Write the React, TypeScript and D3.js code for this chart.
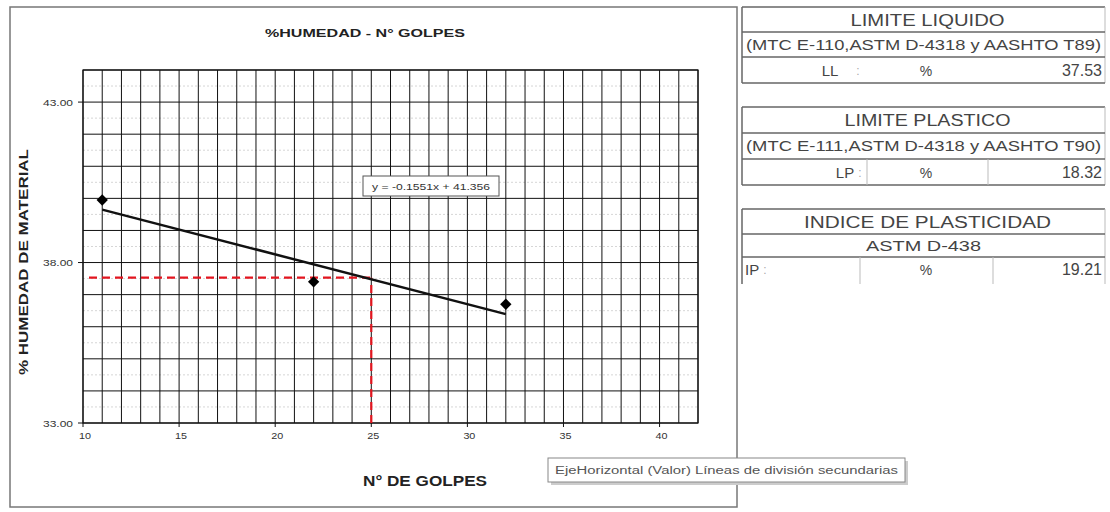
import React from "react";
import * as d3 from "d3";

const golpes = [11, 22, 32];
const humedad = [39.95, 37.4, 36.7];
const slope = -0.1551;
const intercept = 41.356;
const trendRange = [11, 32];
const limiteLiquido = 37.53;
const golpesRef = 25;
const xTicks = [10, 15, 20, 25, 30, 35, 40];
const yTicks = [33, 38, 43];
const xDomain = [10, 42];
const yDomain = [33, 44];

const LL = "37.53";
const LP = "18.32";
const IP = "19.21";

const FONT = "'Liberation Sans', Arial, sans-serif";

export default function App() {
  const left = 83, right = 698, top = 70, bottom = 423;
  const x = d3.scaleLinear().domain(xDomain).range([left, right]);
  const y = d3.scaleLinear().domain(yDomain).range([bottom, top]);
  const vGrid = d3.range(xDomain[0], xDomain[1] + 1, 1);
  const hGrid = d3.range(yDomain[0], yDomain[1] + 1, 1);
  const hMinor = d3.range(yDomain[0] + 0.5, yDomain[1], 1);
  const line = d3.line<number>().x((d) => x(d)).y((d) => y(slope * d + intercept));
  const diamond = d3.symbol().type(d3.symbolSquare).size(64)();

  const textTable = "#444";
  const border = "#666";
  const tblL = 742, tblR = 1105;

  const table = (
    topY: number,
    h1: number,
    h2: number,
    title: string,
    titleLen: number,
    sub: string,
    subLen: number,
    row: React.ReactNode,
    bottomY: number,
    drawBottom: boolean
  ) => (
    <g>
      <line x1={tblL} x2={tblR} y1={topY} y2={topY} stroke={border} strokeWidth={1.5} />
      <line x1={tblL} x2={tblL} y1={topY} y2={bottomY} stroke={border} strokeWidth={1.5} />
      <line x1={tblR} x2={tblR} y1={topY} y2={bottomY} stroke="#bbb" strokeWidth={1} />
      <line x1={tblL} x2={tblR} y1={h1} y2={h1} stroke={border} strokeWidth={1.5} />
      <line x1={tblL} x2={tblR} y1={h2} y2={h2} stroke={border} strokeWidth={1.5} />
      {drawBottom && <line x1={tblL} x2={tblR} y1={bottomY} y2={bottomY} stroke={border} strokeWidth={1.5} />}
      <text x={(tblL + tblR) / 2 + 4} y={(topY + h1) / 2 + 6} textAnchor="middle" fontSize={16} fill={textTable}
        textLength={titleLen} lengthAdjust="spacingAndGlyphs">{title}</text>
      <text x={(tblL + tblR) / 2} y={(h1 + h2) / 2 + 5} textAnchor="middle" fontSize={14} fill={textTable}
        textLength={subLen} lengthAdjust="spacingAndGlyphs">{sub}</text>
      {row}
    </g>
  );

  return (
    <svg width={1110} height={512} style={{ position: "absolute", left: 0, top: 0, background: "#fff" }} fontFamily={FONT}>
      <rect x={0} y={0} width={1110} height={512} fill="#fff" />
      {/* chart frame */}
      <rect x={10} y={7} width={727} height={500} fill="#fff" stroke="#777" strokeWidth={1.5} />
      <text x={365} y={37} textAnchor="middle" fontSize={11} fontWeight="bold" fill="#222"
        textLength={200} lengthAdjust="spacingAndGlyphs">%HUMEDAD - N° GOLPES</text>

      {/* minor dashed gridlines */}
      {hMinor.map((v) => (
        <line key={"hm" + v} x1={left} x2={right} y1={y(v)} y2={y(v)} stroke="#ccc" strokeWidth={0.8} strokeDasharray="2,2" />
      ))}
      {/* major grid */}
      {vGrid.map((v) => (
        <line key={"v" + v} x1={x(v)} x2={x(v)} y1={top} y2={bottom} stroke="#111" strokeWidth={1} />
      ))}
      {hGrid.map((v) => (
        <line key={"h" + v} x1={left} x2={right} y1={y(v)} y2={y(v)} stroke="#111" strokeWidth={1} />
      ))}
      <rect x={left} y={top} width={right - left} height={bottom - top} fill="none" stroke="#111" strokeWidth={1.2} />

      {/* ticks */}
      {yTicks.map((v) => (
        <g key={"yt" + v}>
          <line x1={left - 5} x2={left} y1={y(v)} y2={y(v)} stroke="#111" />
          <text x={left - 10} y={y(v) + 3.5} textAnchor="end" fontSize={9.5} fill="#333"
            textLength={30} lengthAdjust="spacingAndGlyphs">{v.toFixed(2)}</text>
        </g>
      ))}
      {xTicks.map((v) => (
        <g key={"xt" + v}>
          <line x1={x(v)} x2={x(v)} y1={bottom} y2={bottom + 4} stroke="#111" />
          <text x={x(v) + 2} y={bottom + 16} textAnchor="middle" fontSize={9.5} fill="#333"
            textLength={12} lengthAdjust="spacingAndGlyphs">{v}</text>
        </g>
      ))}

      {/* reference dashed red lines */}
      <line x1={x(xDomain[0]) + 6} x2={x(golpesRef)} y1={y(limiteLiquido)} y2={y(limiteLiquido)} stroke="#e3151f" strokeWidth={2.2} strokeDasharray="8,5" />
      <line x1={x(golpesRef)} x2={x(golpesRef)} y1={y(yDomain[0])} y2={y(limiteLiquido)} stroke="#e3151f" strokeWidth={2.2} strokeDasharray="8,5" />

      {/* trend line */}
      <path d={line(trendRange) || ""} fill="none" stroke="#111" strokeWidth={2.5} />

      {/* points */}
      {golpes.map((g, i) => (
        <path key={"p" + i} d={diamond || ""} transform={`translate(${x(g)},${y(humedad[i])}) rotate(45)`} fill="#000" />
      ))}

      {/* equation */}
      <rect x={363} y={176} width={136} height={20} fill="#fff" stroke="#555" strokeWidth={1} />
      <text x={431} y={189.5} textAnchor="middle" fontSize={9} fill="#333"
        textLength={118} lengthAdjust="spacingAndGlyphs">y = -0.1551x + 41.356</text>

      {/* axis titles */}
      <text transform={`translate(28,262) rotate(-90)`} textAnchor="middle" fontSize={13} fontWeight="bold" fill="#222"
        textLength={226} lengthAdjust="spacingAndGlyphs">% HUMEDAD DE MATERIAL</text>
      <text x={425} y={486} textAnchor="middle" fontSize={14} fontWeight="bold" fill="#222"
        textLength={124} lengthAdjust="spacingAndGlyphs">N° DE GOLPES</text>

      {/* tooltip */}
      <rect x={551} y={461} width={357} height={24} fill="#ccc" />
      <rect x={548} y={458} width={357} height={24} fill="#fff" stroke="#888" strokeWidth={1} />
      <text x={555} y={474} fontSize={10} fill="#555" textLength={343} lengthAdjust="spacingAndGlyphs">EjeHorizontal (Valor)  Líneas de división secundarias</text>

      {/* Table 1 */}
      {table(7, 32, 57, "LIMITE LIQUIDO", 154, "(MTC E-110,ASTM D-4318 y AASHTO T89)", 355,
        <g fill={textTable}>
          <text x={830} y={76} textAnchor="middle" fontSize={15}>LL</text>
          <text x={858} y={75} textAnchor="middle" fontSize={12} fill="#aaa">:</text>
          <text x={926} y={76} textAnchor="middle" fontSize={14}>%</text>
          <text x={1102} y={76} textAnchor="end" fontSize={16}>{LL}</text>
        </g>, 83, true)}

      {/* Table 2 */}
      {table(107, 133, 159, "LIMITE PLASTICO", 166, "(MTC E-111,ASTM D-4318 y AASHTO T90)", 355,
        <g fill={textTable}>
          <line x1={867} x2={867} y1={159} y2={185} stroke="#bbb" />
          <line x1={988} x2={988} y1={159} y2={185} stroke="#bbb" />
          <text x={845} y={178} textAnchor="middle" fontSize={15}>LP</text>
          <text x={860} y={177} textAnchor="middle" fontSize={12} fill="#aaa">:</text>
          <text x={926} y={178} textAnchor="middle" fontSize={14}>%</text>
          <text x={1102} y={178} textAnchor="end" fontSize={16}>{LP}</text>
        </g>, 185, true)}

      {/* Table 3 */}
      {table(209, 234, 257, "INDICE DE PLASTICIDAD", 247, "ASTM D-438", 115,
        <g fill={textTable}>
          <line x1={860} x2={860} y1={257} y2={284} stroke="#bbb" />
          <line x1={993} x2={993} y1={257} y2={284} stroke="#bbb" />
          <text x={745} y={275} textAnchor="start" fontSize={15}>IP</text>
          <text x={765} y={274} textAnchor="middle" fontSize={12} fill="#aaa">:</text>
          <text x={926} y={275} textAnchor="middle" fontSize={14}>%</text>
          <text x={1102} y={275} textAnchor="end" fontSize={16}>{IP}</text>
        </g>, 284, false)}
    </svg>
  );
}
